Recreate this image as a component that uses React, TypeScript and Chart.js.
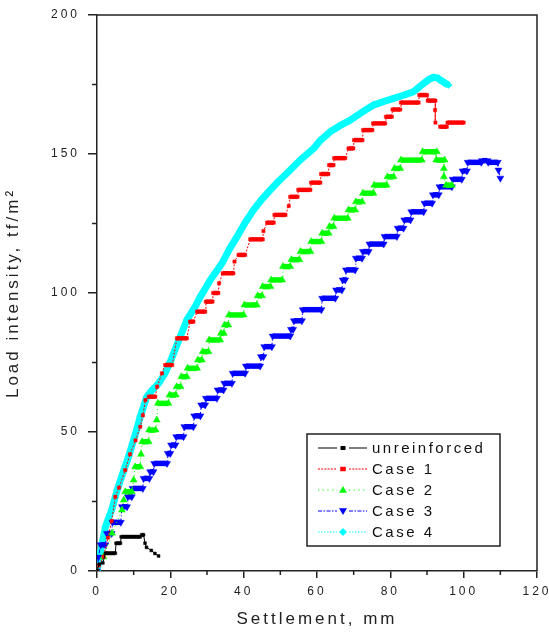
import React, { useEffect, useRef } from 'react';
import { Chart, registerables } from 'chart.js';

Chart.register(...registerables);

type P = [number, number];

// ---- data (settlement mm, load intensity tf/m2) ----
const unreinforced: P[] = [
  [0, 0], [0.6, 2.5], [1.6, 2.9], [2.3, 6.4], [5, 6.4], [5.2, 10], [6.4, 10], [6.6, 12.3], [11.8, 12.3],
  [12.2, 13], [12.7, 13], [13.1, 10], [13.5, 8.5], [14.8, 7.4], [15.8, 6.3], [16.8, 5.4],
];

const case1: P[] = [
  [0, 0], [0.5, 2], [1.8, 5.1], [3, 12], [4, 18], [5, 26.7], [6, 30], [7.7, 36.3], [9, 42], [10.5, 47],
  [11.8, 51.9], [12.5, 56], [13.2, 61.5], [14.1, 62.7], [15.9, 62.7], [16.4, 66.3], [17.7, 71.1],
  [18.6, 74.1], [20.5, 74.1], [21.8, 83.7], [24.5, 83.7], [25.4, 89.7], [26.3, 89.7], [27.3, 93.3],
  [29.5, 93.3], [29.7, 96.9], [31.5, 96.9], [31.7, 100], [33.1, 100], [33.3, 103.5], [34.3, 107.1],
  [37.2, 107.1], [37.5, 111.3], [38.6, 113.7], [40.4, 113.7], [41.8, 119.3], [45.2, 119.3], [45.4, 122.3],
  [46.4, 125.3], [48.2, 125.3], [48.4, 128.1], [51.4, 128.1], [52.3, 131.3], [52.7, 134.6], [54.7, 134.6],
  [54.9, 137.1], [58.2, 137.1], [58.4, 139.7], [60.9, 139.7], [61.1, 142.8], [63.1, 142.8], [63.3, 146],
  [64.5, 146], [64.7, 148.5], [67.7, 148.5], [68.6, 152], [69.9, 152], [70.1, 155], [72.4, 155],
  [72.6, 158.6], [75.1, 158.6], [75.3, 161], [78.6, 161], [78.8, 163.4], [80.4, 163.4], [80.6, 166],
  [82.7, 166], [82.9, 168.5], [87.7, 168.5], [87.9, 171.2], [90, 171.2], [90.2, 169.2], [92.3, 169.2],
  [92.2, 165.8], [92.3, 161.3], [93.6, 159.8], [95.4, 159.8], [95.6, 161.3], [100, 161.3],
];

const case2: P[] = [
  [0, 0], [1.8, 5.1], [4.1, 13.6], [6.8, 21.9], [7.3, 25.5], [7.7, 28.5], [9.5, 28.5], [10, 32.7],
  [10.4, 37.5], [11.8, 37.5], [12, 42], [12.3, 46.5], [14.1, 46.5], [14.2, 50.7], [16, 50.7], [16.3, 54.3],
  [16.6, 60.3], [19.5, 60.3], [19.8, 63.3], [21.5, 63.3], [21.7, 66.3], [22.8, 66.3], [23, 69.9],
  [24.5, 69.9], [24.7, 72.9], [27.3, 72.9], [27.5, 75.9], [28.6, 75.9], [28.8, 78.9], [30.4, 78.9],
  [30.6, 83.1], [33.6, 83.1], [33.8, 85.5], [34.6, 85.5], [34.8, 88.5], [35.8, 88.5], [36, 92.1],
  [40, 92.1], [40.2, 95.7], [43.6, 95.7], [43.8, 99], [45, 99], [45.2, 102.3], [47.3, 102.3],
  [47.5, 104.7], [50.5, 104.7], [50.7, 109.5], [52.7, 109.5], [53, 112], [55.2, 112], [55.5, 114.9],
  [58.2, 114.9], [58.4, 118.5], [61.2, 118.5], [61.4, 121.5], [63.2, 121.5], [63.4, 123.9], [64.5, 123.9],
  [64.7, 126.9], [68.4, 126.9], [68.6, 129.9], [70.4, 129.9], [70.6, 132.8], [72.3, 132.8], [72.5, 135.9],
  [75.4, 135.9], [75.6, 138.8], [79, 138.8], [79.2, 141.8], [80.9, 141.8], [81.1, 144.8], [82.7, 144.8],
  [82.9, 147.8], [88.6, 147.8], [88.8, 150.8], [92.7, 150.8], [92.5, 147.8], [94.8, 147.8], [94.6, 144.8],
  [94.6, 141.8], [95.2, 138.8], [96.8, 138.8],
];

const case3: P[] = [
  [0, 0], [0.4, 5], [1, 9.4], [2.3, 9.4], [2.7, 13.5], [4, 13.5], [4.2, 17.5], [6.5, 17.5], [6.8, 23.1],
  [8.2, 23.1], [8.4, 26.7], [9.5, 26.7], [9.7, 29.7], [12.5, 29.7], [12.7, 33.3], [14.3, 33.3], [14.5, 35.7],
  [15.4, 35.7], [15.6, 38.7], [19.1, 38.7], [19.3, 42.3], [20, 42.3], [20.2, 45.3], [21.4, 45.3],
  [21.6, 48.3], [23.6, 48.3], [23.8, 51.9], [26.3, 51.9], [26.5, 55.8], [28.2, 55.8], [28.4, 59.7],
  [29.5, 59.7], [29.7, 62.1], [32.7, 62.1], [32.9, 65.1], [34.5, 65.1], [34.7, 67.5], [36.8, 67.5],
  [37, 71.1], [40.4, 71.1], [40.6, 73.7], [44.5, 73.7], [44.7, 77.1], [45.4, 77.1], [45.6, 80.7],
  [47.7, 80.7], [47.9, 84.5], [52.7, 84.5], [52.9, 86.9], [53.5, 86.9], [53.7, 90], [55.9, 90], [56.1, 94],
  [61.2, 94], [61.4, 98.1], [65, 98.1], [65.2, 101.1], [66.8, 101.1], [67, 104.7], [67.7, 104.7],
  [67.9, 108.3], [70.4, 108.3], [70.6, 112.5], [72.3, 112.5], [72.5, 114.9], [74.1, 114.9], [74.3, 117.6],
  [78.2, 117.6], [78.4, 120.3], [81.8, 120.3], [82, 123.3], [83.6, 123.3], [83.8, 126.3], [85.5, 126.3],
  [85.7, 129.2], [89.1, 129.2], [89.3, 132.3], [91.4, 132.3], [91.6, 135.3], [93.2, 135.3], [93.4, 138.2],
  [96.8, 138.2], [97, 140.9], [99.5, 140.9], [99.7, 143.9], [100.9, 143.9], [101.1, 147], [104.8, 147],
  [105, 147.6], [106.5, 147.6], [106.7, 147], [109.3, 147], [109.5, 144.2], [110, 141.3],
];

const case4: P[] = [
  [0, 0], [0.9, 6.4], [2.3, 15.9], [4, 22], [5.5, 29.1], [7, 35], [8.6, 41.1], [10.2, 48], [11.8, 55.5],
  [13.6, 62.7], [15, 65], [16.8, 67.5], [18.5, 71], [20, 75.3], [22, 82], [24.5, 90.3], [26.5, 94.5],
  [28.2, 98.7], [30.9, 104.7], [34.1, 110.7], [36, 115.5], [38.2, 120.3], [40.5, 125.5], [42.7, 129.9],
  [45, 133.8], [47.3, 137.1], [49.5, 140.2], [51.8, 143.1], [55.4, 147.8], [59.1, 152], [61, 155],
  [63.6, 158], [66, 160], [69.1, 162.2], [72, 164.8], [75.4, 167.6], [78, 168.8], [80.9, 170], [84, 171.3],
  [86.3, 172.4], [87.8, 174], [89.1, 175.4], [90.5, 176.8], [91.8, 177.6], [93, 177.3], [93.6, 176.6],
  [94.8, 175.6], [95.9, 174.8],
];

const seriesLabels = ['unreinforced', 'Case 1', 'Case 2', 'Case 3', 'Case 4'];
const xMajorStep = 20;
const yMajorStep = 50;
const xMinorTicks = [10, 30, 50, 70, 90, 110];
const yMinorTicks = [25, 75, 125, 175];
const xTitle = 'Settlement, mm';
const yTitle = 'Load intensity, tf/m\u00B2';

// ---- styles ----
const FONT = "'Liberation Sans', Arial, sans-serif";
const AXIS = '#222';
const AXIS_W = 1.5;

type Style = {
  color: string; point: string; rot: number; r: number; thick: number; dash: number[]; legendDash: number[];
};
const styles: Style[] = [
  { color: '#000000', point: 'rect', rot: 0, r: 2, thick: 4, dash: [], legendDash: [] },
  { color: '#ff0000', point: 'rect', rot: 0, r: 2.3, thick: 4.5, dash: [2, 1.5], legendDash: [2, 1.2] },
  { color: '#00ff00', point: 'triangle', rot: 0, r: 4, thick: 5.5, dash: [1, 3], legendDash: [1.2, 3.5] },
  { color: '#0000ff', point: 'triangle', rot: 180, r: 4, thick: 5.5, dash: [4, 2, 1, 2], legendDash: [4, 1.5, 1.5, 1.5] },
  { color: '#00ffff', point: 'rectRot', rot: 0, r: 4, thick: 7, dash: [1.5, 2], legendDash: [1.5, 1.5] },
];

function drawMarker(ctx: CanvasRenderingContext2D, st: Style, x: number, y: number) {
  const r = Math.min(st.r, 3.5) + 0.5;
  ctx.beginPath();
  if (st.point === 'rect') {
    ctx.rect(x - r, y - r * 0.8, 2 * r, 1.6 * r);
  } else if (st.point === 'rectRot') {
    ctx.moveTo(x, y - r); ctx.lineTo(x + r, y); ctx.lineTo(x, y + r); ctx.lineTo(x - r, y); ctx.closePath();
  } else {
    const s = st.rot === 180 ? -1 : 1;
    ctx.moveTo(x, y - s * r); ctx.lineTo(x + r, y + s * r * 0.7); ctx.lineTo(x - r, y + s * r * 0.7); ctx.closePath();
  }
  ctx.fillStyle = st.color;
  ctx.fill();
}

const spacingPlugin = {
  id: 'letterSpacing',
  beforeUpdate(chart: any) { chart.ctx.letterSpacing = '3px'; },
  beforeLayout(chart: any) { chart.ctx.letterSpacing = '3px'; },
  beforeDraw(chart: any) { chart.ctx.letterSpacing = '3px'; },
};

const framePlugin = {
  id: 'frameMinor',
  afterDraw(chart: any) {
    const { ctx, chartArea: a, scales } = chart;
    ctx.save();
    ctx.strokeStyle = AXIS;
    ctx.lineWidth = AXIS_W;
    ctx.setLineDash([]);
    ctx.beginPath();
    ctx.moveTo(a.left, a.top); ctx.lineTo(a.right, a.top); ctx.lineTo(a.right, a.bottom);
    ctx.stroke();
    ctx.beginPath();
    for (const v of xMinorTicks) {
      const px = scales.x.getPixelForValue(v);
      ctx.moveTo(px, a.bottom); ctx.lineTo(px, a.bottom + 4);
    }
    for (const v of yMinorTicks) {
      const py = scales.y.getPixelForValue(v);
      ctx.moveTo(a.left, py); ctx.lineTo(a.left - 5, py);
    }
    ctx.stroke();

    // legend box
    const bx = a.left + 210, by = 434, bw = 193, bh = 112;
    ctx.fillStyle = '#fff';
    ctx.fillRect(bx, by, bw, bh);
    ctx.lineWidth = 1.5;
    ctx.strokeStyle = '#222';
    ctx.strokeRect(bx, by, bw, bh);
    ctx.font = `15px ${FONT}`;
    (ctx as any).letterSpacing = '2.5px';
    ctx.textBaseline = 'middle';
    ctx.textAlign = 'left';
    seriesLabels.forEach((lab, i) => {
      const st = styles[i];
      const y = by + 14 + i * 21;
      const x0 = bx + 11, mx = bx + 36, x1 = bx + 60;
      ctx.strokeStyle = st.color;
      ctx.lineWidth = 1.2;
      ctx.setLineDash(st.legendDash);
      ctx.beginPath();
      ctx.moveTo(x0, y); ctx.lineTo(mx - 6, y);
      ctx.moveTo(mx + 6, y); ctx.lineTo(x1, y);
      ctx.stroke();
      ctx.setLineDash([]);
      drawMarker(ctx, st, mx, y);
      ctx.fillStyle = '#111';
      ctx.fillText(lab, bx + 65, y + 1);
    });
    ctx.restore();
  },
};

export default function App() {
  const ref = useRef<HTMLCanvasElement>(null);
  useEffect(() => {
    const series = [unreinforced, case1, case2, case3, case4];
    const datasets = series.map((pts, i) => {
      const st = styles[i];
      const stepped = i !== 4;
      return {
        label: seriesLabels[i],
        data: pts.map(([x, y]) => ({ x, y })),
        showLine: true,
        borderColor: st.color,
        backgroundColor: st.color,
        borderWidth: stepped ? 1 : st.thick,
        borderJoinStyle: 'round',
        pointStyle: st.point,
        pointRotation: st.rot,
        pointRadius: stepped ? st.r : 3.5,
        pointBorderWidth: 0.5,
        pointBorderColor: st.color,
        pointBackgroundColor: st.color,
        segment: stepped
          ? {
              borderWidth: (c: any) => (Math.abs(c.p0.parsed.y - c.p1.parsed.y) < 0.01 ? st.thick : 1),
              borderDash: (c: any) => (Math.abs(c.p0.parsed.y - c.p1.parsed.y) < 0.01 ? [] : st.dash),
            }
          : undefined,
      };
    });

    const chart = new Chart(ref.current as HTMLCanvasElement, {
      type: 'scatter',
      data: { datasets } as any,
      options: {
        responsive: false,
        animation: false,
        devicePixelRatio: 1,
        layout: { padding: { top: 15, right: 12, left: 0, bottom: 0 } },
        plugins: { legend: { display: false }, tooltip: { enabled: false } },
        scales: {
          x: {
            type: 'linear',
            min: 0,
            max: 120,
            ticks: { stepSize: xMajorStep, padding: 6, color: '#222', font: { family: FONT, size: 12 } },
            grid: { drawOnChartArea: false, drawTicks: true, tickLength: 7, color: AXIS, lineWidth: AXIS_W },
            border: { display: true, color: AXIS, width: AXIS_W },
            title: { display: true, text: xTitle, color: '#222', font: { family: FONT, size: 17 }, padding: { top: 0, bottom: 3 } },
            afterFit: (s: any) => { s.height = 62; s.paddingLeft = 0; s.paddingRight = 0; },
          },
          y: {
            type: 'linear',
            min: 0,
            max: 200,
            ticks: { stepSize: yMajorStep, padding: 8, color: '#222', font: { family: FONT, size: 12 } },
            grid: { drawOnChartArea: false, drawTicks: true, tickLength: 9, color: AXIS, lineWidth: AXIS_W },
            border: { display: true, color: AXIS, width: AXIS_W },
            title: { display: true, text: yTitle, color: '#222', font: { family: FONT, size: 17 }, padding: { top: 3, bottom: 0 } },
            afterFit: (s: any) => { s.width = 97; s.paddingTop = 0; s.paddingBottom = 0; },
          },
        },
      } as any,
      plugins: [spacingPlugin, framePlugin],
    });
    return () => chart.destroy();
  }, []);

  return (
    <div style={{ position: 'absolute', left: 0, top: 0, width: 549, height: 633, background: '#fff' }}>
      <canvas ref={ref} width={549} height={633} style={{ display: 'block', width: 549, height: 633 }} />
    </div>
  );
}
